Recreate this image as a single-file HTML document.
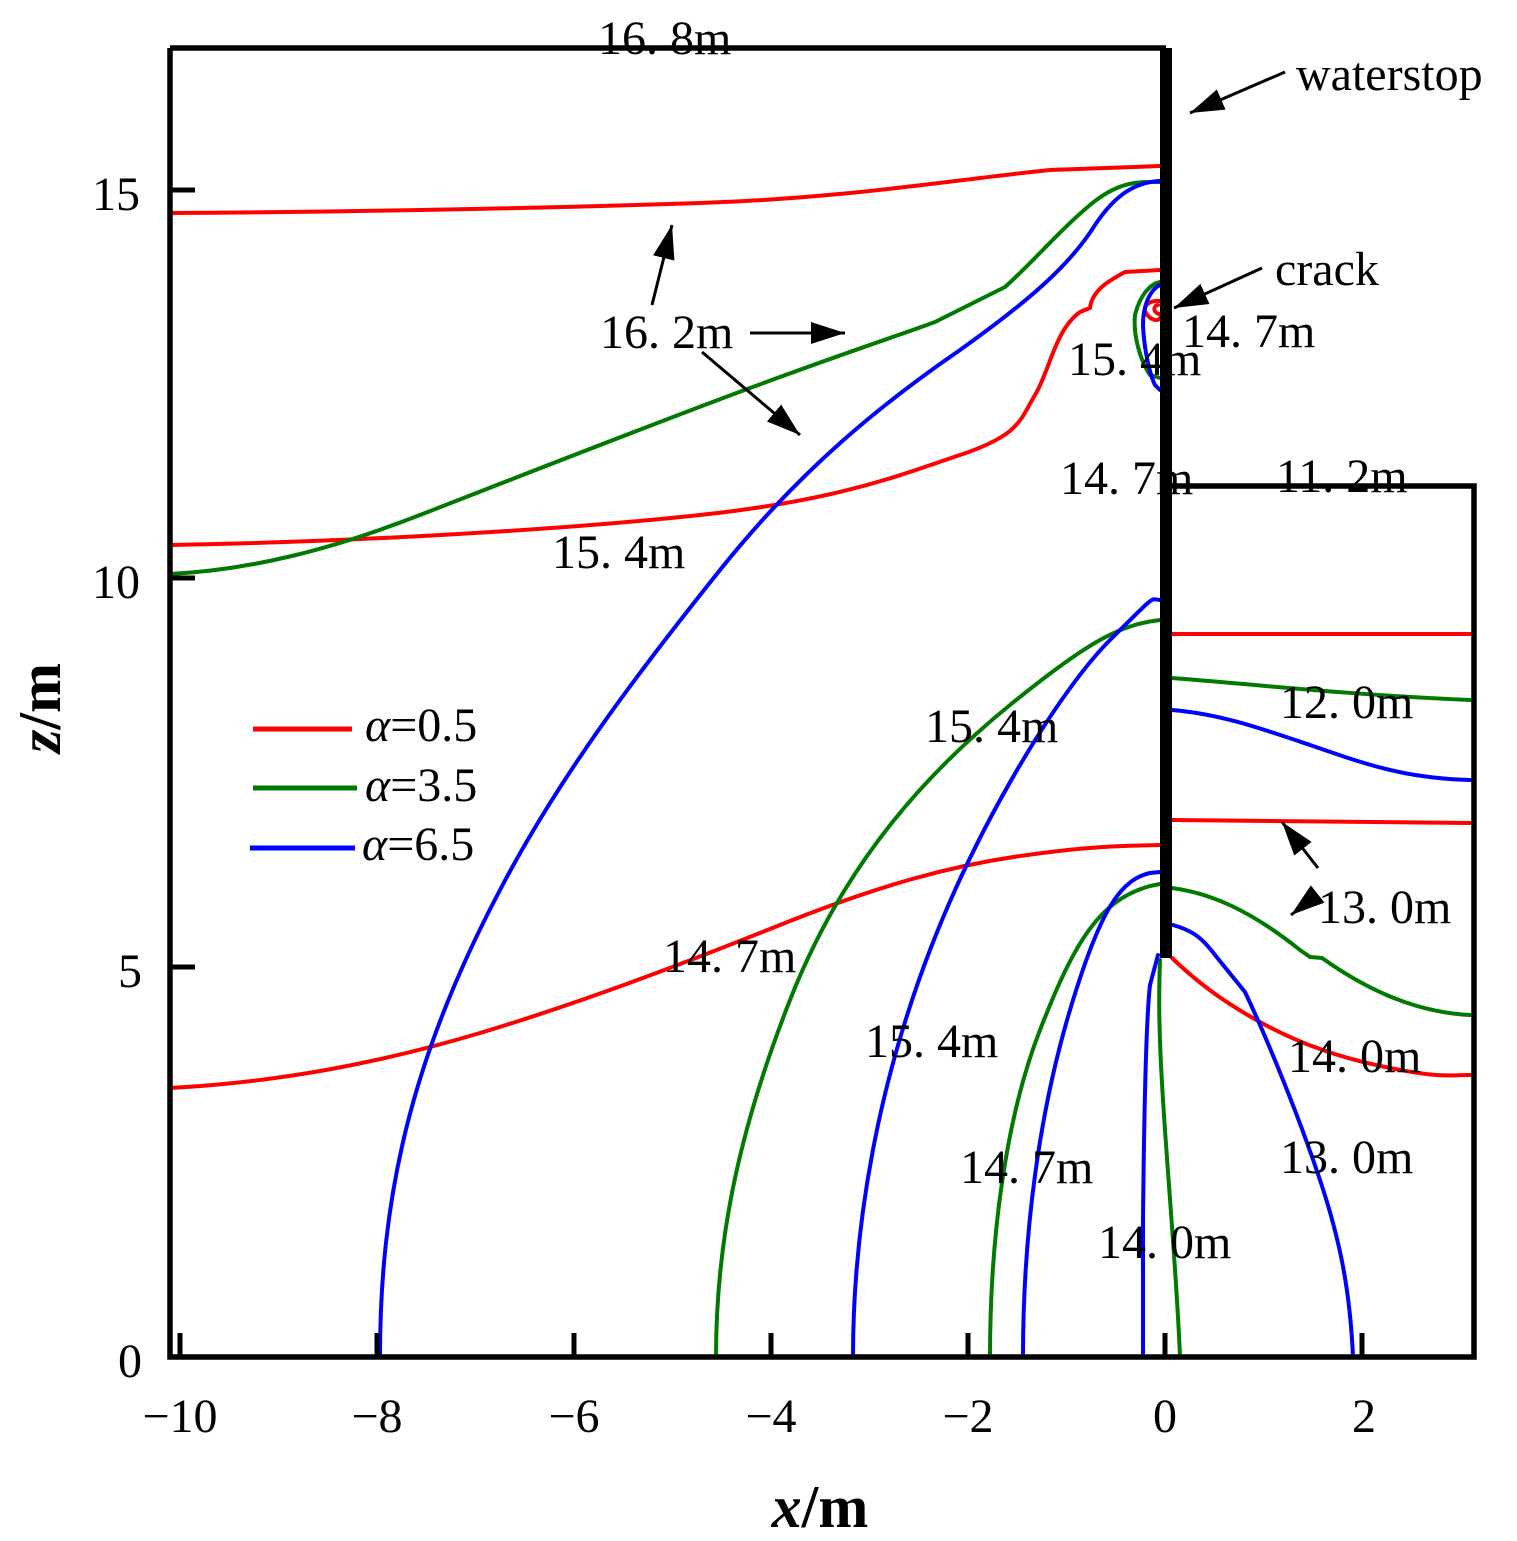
<!DOCTYPE html>
<html><head><meta charset="utf-8"><style>
html,body{margin:0;padding:0;background:#fff}
svg{display:block}
text{font-family:"Liberation Serif","Noto Serif CJK SC",serif;fill:#000}
</style></head><body>
<svg width="1517" height="1541" viewBox="0 0 1517 1541" xmlns="http://www.w3.org/2000/svg">
<defs>
<marker id="a2" viewBox="0 0 10 10" refX="10" refY="5" markerWidth="34" markerHeight="22" markerUnits="userSpaceOnUse" orient="auto" preserveAspectRatio="none"><path d="M0,0 L10,5 L0,10 z" fill="#000"/></marker></defs>
<g fill="none" stroke-width="4" stroke-linejoin="round" stroke-linecap="round">
<g stroke="#ff0000">
<path d="M170,213 C350,212 550,208 700,203 S950,180 1050,170 L1160,166"/>
<path d="M170,545 C350,542 560,530 700,515 S900,475 960,455 S1020,420 1035,395 S1055,330 1080,312 L1090,308 C1092,290 1110,280 1125,272 L1160,270"/>
<path d="M1160,301 C1150,300 1142,306 1146,313 C1150,320 1158,322 1160,318 M1158,305 C1152,306 1154,314 1160,314"/>
<path d="M170,1088 C280,1082 380,1063 480,1033 S680,965 780,925 S950,866 1020,856 S1120,846 1160,845"/>
<path d="M1172,634 L1470,634"/>
<path d="M1172,820 L1470,823"/>
<path d="M1172,958 C1195,980 1220,1000 1260,1022 S1340,1058 1390,1068 S1450,1075 1470,1075"/>
</g>
<g stroke="#007a00">
<path d="M170,574 C250,570 330,550 420,515 S650,425 750,388 S900,335 935,322 L1005,287 C1030,265 1060,230 1090,205 S1140,182 1160,182"/>
<path d="M1160,282 C1150,284 1140,295 1135,315 C1133,335 1140,360 1150,375 L1160,378"/>
<path d="M716,1357 C716,1250 735,1140 790,1000 S930,770 1010,705 S1120,625 1160,620"/>
<path d="M1172,678 C1250,684 1350,695 1470,700"/>
<path d="M990,1357 C990,1240 1005,1120 1040,1030 S1100,900 1150,886 L1160,884"/>
<path d="M1172,888 C1210,893 1250,910 1300,950 L1310,957 L1322,958 C1360,985 1410,1012 1470,1015"/>
<path d="M1180,1357 C1177,1280 1168,1180 1163,1100 S1159,990 1160,960"/>
</g>
<g stroke="#0000ff">
<path d="M380,1357 C380,1200 410,1060 500,890 C560,775 640,670 720,570 C800,470 880,405 960,350 C1030,300 1070,265 1095,225 C1115,195 1135,182 1160,181"/>
<path d="M1160,285 C1150,290 1143,305 1143,325 C1144,350 1150,375 1155,385 L1160,390"/>
<path d="M853,1357 C853,1220 880,1080 930,950 S1060,690 1110,640 S1150,600 1160,600"/>
<path d="M1172,710 C1220,714 1260,728 1310,745 S1400,778 1470,780"/>
<path d="M1023,1357 C1023,1230 1040,1110 1070,1010 S1120,880 1150,873 L1160,872"/>
<path d="M1143,1357 L1143,1220 C1144,1120 1146,1020 1150,985 L1158,955"/>
<path d="M1173,925 C1190,930 1200,935 1215,955 L1245,992 C1270,1045 1300,1120 1320,1180 S1350,1290 1353,1357"/>
</g>
</g>
<g fill="none" stroke="#000" stroke-width="5.5">
<path d="M170,48 L170,1357 L1474,1357 L1474,486 L1166,486"/>
<path d="M170,48 L1166,48"/>
</g>
<rect x="1160" y="48" width="12" height="910" fill="#000"/>
<g stroke="#000" stroke-width="5">
<path d="M180,1357 V1333 M377,1357 V1333 M574,1357 V1333 M771,1357 V1333 M968,1357 V1333 M1165,1357 V1333 M1362,1357 V1333"/>
<path d="M170,967 H195 M170,578 H195 M170,190 H195"/>
</g>
<g font-size="48">
<text x="130" y="1377" text-anchor="middle">0</text>
<text x="130" y="987" text-anchor="middle">5</text>
<text x="116" y="598" text-anchor="middle">10</text>
<text x="116" y="210" text-anchor="middle">15</text>
<text x="180" y="1432" text-anchor="middle">−10</text>
<text x="377" y="1432" text-anchor="middle">−8</text>
<text x="574" y="1432" text-anchor="middle">−6</text>
<text x="771" y="1432" text-anchor="middle">−4</text>
<text x="968" y="1432" text-anchor="middle">−2</text>
<text x="1165" y="1432" text-anchor="middle">0</text>
<text x="1364" y="1432" text-anchor="middle">2</text>
</g>
<text x="820" y="1527" font-size="60" font-weight="bold" text-anchor="middle"><tspan font-style="italic">x</tspan>/m</text>
<text transform="translate(60,708) rotate(-90)" font-size="60" font-weight="bold" text-anchor="middle"><tspan font-style="italic">z</tspan>/m</text>
<g stroke-width="5"><path d="M253,729 H352" stroke="#ff0000"/><path d="M253,788 H357" stroke="#007a00"/><path d="M250,848 H355" stroke="#0000ff"/></g>
<g font-size="48"><text x="365" y="741"><tspan font-style="italic">α</tspan>=0.5</text><text x="365" y="801"><tspan font-style="italic">α</tspan>=3.5</text><text x="362" y="860"><tspan font-style="italic">α</tspan>=6.5</text></g>
<g font-size="48">
<text x="598" y="54">16. 8m</text>
<text x="600" y="348">16. 2m</text>
<text x="1068" y="375">15. 4m</text>
<text x="1182" y="347">14. 7m</text>
<text x="1060" y="494">14. 7m</text>
<text x="1276" y="492">11. 2m</text>
<text x="552" y="568">15. 4m</text>
<text x="1280" y="718">12. 0m</text>
<text x="925" y="742">15. 4m</text>
<text x="1318" y="923">13. 0m</text>
<text x="663" y="972">14. 7m</text>
<text x="865" y="1057">15. 4m</text>
<text x="1288" y="1072">14. 0m</text>
<text x="960" y="1183">14. 7m</text>
<text x="1280" y="1173">13. 0m</text>
<text x="1098" y="1258">14. 0m</text>
<text x="1296" y="90">waterstop</text>
<text x="1275" y="285">crack</text>
</g>
<g stroke="#000" stroke-width="3" fill="none">
<path d="M1285,72 L1190,113" marker-end="url(#a2)"/>
<path d="M1262,268 L1174,308" marker-end="url(#a2)"/>
<path d="M652,305 L672,225" marker-end="url(#a2)"/>
<path d="M750,333 L845,333" marker-end="url(#a2)"/>
<path d="M702,352 L800,435" marker-end="url(#a2)"/>
<path d="M1318,868 L1282,822" marker-end="url(#a2)"/>
<path d="M1310,900 L1291,915" marker-end="url(#a2)"/>
</g>
</svg>
</body></html>
